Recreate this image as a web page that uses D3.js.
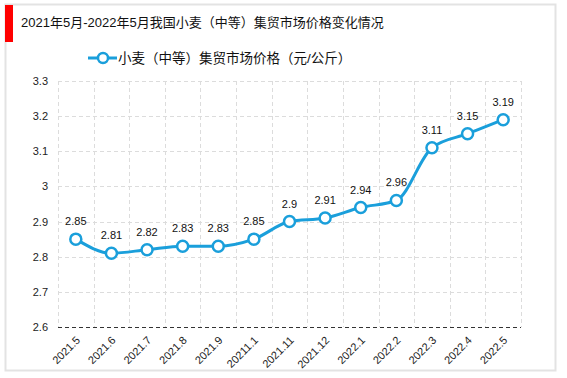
<!DOCTYPE html>
<html>
<head>
<meta charset="utf-8">
<style>
body { margin: 0; background: #fff; }
svg { font-family: "Liberation Sans", Arial, "Noto Sans CJK SC", sans-serif; }
</style>
<script src="https://d3js.org/d3.v7.min.js"></script>
</head>
<body>
<svg id="chart" width="567" height="378"></svg>
<script>

var width = 567;
var height = 378;

var title = "2021年5月-2022年5月我国小麦（中等）集贸市场价格变化情况";
var seriesName = "小麦（中等）集贸市场价格（元/公斤）";

var months = ["2021.5", "2021.6", "2021.7", "2021.8", "2021.9", "20211.1", "2021.11",
              "2021.12", "2022.1", "2022.2", "2022.3", "2022.4", "2022.5"];
var prices = [2.85, 2.81, 2.82, 2.83, 2.83, 2.85, 2.9, 2.91, 2.94, 2.96, 3.11, 3.15, 3.19];
var yTicks = [2.6, 2.7, 2.8, 2.9, 3, 3.1, 3.2, 3.3];

var lineColor = "#1a9fdb";

var svg = d3.select("#chart");

// outer frame
svg.append("rect")
    .attr("x", 5.5).attr("y", 4.5)
    .attr("width", 550).attr("height", 366)
    .attr("fill", "#fff")
    .attr("stroke", "#e3e3e3")
    .attr("stroke-width", 2);

// red title marker
svg.append("rect")
    .attr("x", 5).attr("y", 5)
    .attr("width", 8).attr("height", 37)
    .attr("fill", "#ff0000");

svg.append("text")
    .attr("x", 21).attr("y", 27)
    .attr("font-size", 13)
    .attr("fill", "#111")
    .text(title);

var margin = {left: 58, right: 46, top: 81, bottom: 51};
var plotW = width - margin.left - margin.right;
var plotH = height - margin.top - margin.bottom;

var x = d3.scaleBand()
    .domain(months)
    .range([margin.left, margin.left + plotW]);

var y = d3.scaleLinear()
    .domain([2.6, 3.3])
    .range([margin.top + plotH, margin.top]);

// horizontal grid
svg.append("g")
    .selectAll("line")
    .data(yTicks.slice(1))
    .enter().append("line")
    .attr("x1", margin.left).attr("x2", margin.left + plotW)
    .attr("y1", function(d) { return Math.round(y(d)) + 0.5; })
    .attr("y2", function(d) { return Math.round(y(d)) + 0.5; })
    .attr("stroke", "#dcdcdc")
    .attr("stroke-dasharray", "4,3");

// vertical grid (band edges)
var edges = months.map(function(m) { return x(m); }).concat([margin.left + plotW]);
svg.append("g")
    .selectAll("line")
    .data(edges)
    .enter().append("line")
    .attr("x1", function(d) { return Math.round(d) + 0.5; })
    .attr("x2", function(d) { return Math.round(d) + 0.5; })
    .attr("y1", margin.top).attr("y2", margin.top + plotH)
    .attr("stroke", "#dcdcdc")
    .attr("stroke-dasharray", "4,3");

// bottom axis line
svg.append("line")
    .attr("x1", margin.left).attr("x2", margin.left + plotW)
    .attr("y1", Math.round(y(2.6)) + 0.5).attr("y2", Math.round(y(2.6)) + 0.5)
    .attr("stroke", "#333")
    .attr("stroke-dasharray", "4,3");

// y tick labels
svg.append("g")
    .selectAll("text")
    .data(yTicks)
    .enter().append("text")
    .attr("x", margin.left - 10)
    .attr("y", function(d) { return y(d) + 4; })
    .attr("text-anchor", "end")
    .attr("font-size", 11)
    .attr("fill", "#222")
    .text(function(d) { return d; });

// x tick labels
svg.append("g")
    .selectAll("text")
    .data(months)
    .enter().append("text")
    .attr("transform", function(d) {
        return "translate(" + (x(d) + x.bandwidth() / 2 + 5) + "," + (margin.top + plotH + 14) + ") rotate(-45)";
    })
    .attr("text-anchor", "end")
    .attr("font-size", 11)
    .attr("fill", "#222")
    .text(function(d) { return d; });

var pts = months.map(function(m, i) { return [x(m) + x.bandwidth() / 2, y(prices[i])]; });

svg.append("path")
    .datum(pts)
    .attr("d", d3.line().curve(d3.curveMonotoneX))
    .attr("fill", "none")
    .attr("stroke", lineColor)
    .attr("stroke-width", 3);

svg.append("g")
    .selectAll("circle")
    .data(pts)
    .enter().append("circle")
    .attr("cx", function(d) { return d[0]; })
    .attr("cy", function(d) { return d[1]; })
    .attr("r", 5.5)
    .attr("fill", "#fff")
    .attr("stroke", lineColor)
    .attr("stroke-width", 2.5);

svg.append("g")
    .selectAll("text")
    .data(pts)
    .enter().append("text")
    .attr("x", function(d) { return d[0]; })
    .attr("y", function(d) { return d[1] - 14; })
    .attr("text-anchor", "middle")
    .attr("font-size", 11)
    .attr("fill", "#111")
    .text(function(d, i) { return prices[i]; });

// legend
var legend = svg.append("g").attr("transform", "translate(88,58)");
legend.append("line")
    .attr("x1", 0).attr("x2", 29)
    .attr("stroke", lineColor).attr("stroke-width", 3);
legend.append("circle")
    .attr("cx", 15).attr("r", 5)
    .attr("fill", "#fff").attr("stroke", lineColor).attr("stroke-width", 2.5);
legend.append("text")
    .attr("x", 30).attr("y", 5)
    .attr("font-size", 13.5)
    .attr("fill", "#111")
    .text(seriesName);

</script>
</body>
</html>
